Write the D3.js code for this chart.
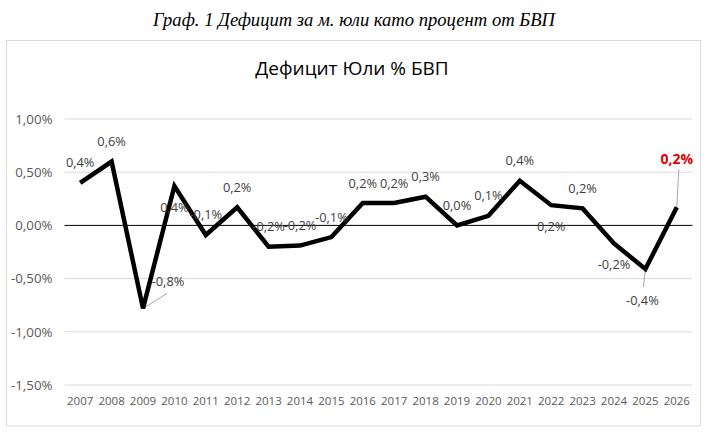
<!DOCTYPE html>
<html>
<head>
<meta charset="utf-8">
<script src="https://cdn.jsdelivr.net/npm/d3@7"></script>
<style>
  body { margin: 0; background: #fff; }
  svg { display: block; }
</style>
</head>
<body>
<script>
// data
const years = ["2007","2008","2009","2010","2011","2012","2013","2014","2015","2016",
               "2017","2018","2019","2020","2021","2022","2023","2024","2025","2026"];
const deficit = [0.40, 0.60, -0.78, 0.37, -0.09, 0.17, -0.20, -0.19, -0.11, 0.21,
                 0.21, 0.27, 0.00, 0.09, 0.42, 0.19, 0.16, -0.17, -0.41, 0.17];
const yTicks = [-1.5, -1.0, -0.5, 0, 0.5, 1.0];

// where each data label sits relative to its point (layout only)
const labelDx = [0,0,25,0,0,0,0,0,0,0, 0,0,0,0,0,0,0,0,-3,0];
const labelDy = [-20,-20,-27,21,-20,-20,-20,-20,-20,-20, -20,-20,-20,-20,-20,21,-20,21,31,-48];

const W = 716, H = 445;
const plot = {left: 64.5, right: 692.5, top: 119, bottom: 385};

const svg = d3.select("body").append("svg")
  .attr("width", W).attr("height", H);

// caption above the chart
svg.append("text")
  .attr("x", 354).attr("y", 26)
  .attr("text-anchor", "middle")
  .attr("textLength", 402)
  .attr("lengthAdjust", "spacingAndGlyphs")
  .style("font-family", "'Liberation Serif', serif")
  .style("font-style", "italic")
  .style("font-size", "18px")
  .attr("fill", "#000")
  .text("Граф. 1 Дефицит за м. юли като процент от БВП");

// chart frame
svg.append("rect")
  .attr("x", 6.5).attr("y", 40.5)
  .attr("width", 694).attr("height", 385.5)
  .attr("fill", "#fff").attr("stroke", "#d9d9d9");

svg.append("text")
  .attr("x", 352).attr("y", 75)
  .attr("text-anchor", "middle")
  .style("font-family", "'Open Sans', sans-serif")
  .style("font-size", "19px")
  .attr("fill", "#000")
  .text("Дефицит Юли % БВП");

const x = d3.scaleBand().domain(years).range([plot.left, plot.right]);
const y = d3.scaleLinear().domain([-1.5, 1.0]).range([plot.bottom, plot.top]);

const fmtAxis = d => d3.format(".2f")(d).replace(".", ",").replace("−", "-") + "%";
const fmtLabel = d => d3.format(".1f")(d).replace(".", ",").replace("−", "-") + "%";

// gridlines
svg.append("g")
  .selectAll("line")
  .data(yTicks.filter(d => d !== 0))
  .enter().append("line")
  .attr("x1", plot.left).attr("x2", plot.right)
  .attr("y1", d => y(d)).attr("y2", d => y(d))
  .attr("stroke", "#d9d9d9").attr("stroke-width", 1);

// y axis labels
const yAxis = d3.axisLeft(y).tickValues(yTicks).tickSize(0).tickPadding(12).tickFormat(fmtAxis);
svg.append("g")
  .attr("transform", "translate(" + plot.left + ",0)")
  .call(yAxis)
  .call(g => g.select(".domain").remove())
  .selectAll("text")
  .style("font-family", "'Open Sans', sans-serif")
  .style("font-size", "13.3px")
  .attr("fill", "#595959");

// zero line
svg.append("line")
  .attr("x1", plot.left).attr("x2", plot.right)
  .attr("y1", y(0)).attr("y2", y(0))
  .attr("stroke", "#000").attr("stroke-width", 1);

// x axis labels
const xAxis = d3.axisBottom(x).tickSize(0).tickPadding(12);
svg.append("g")
  .attr("transform", "translate(0," + plot.bottom + ")")
  .call(xAxis)
  .call(g => g.select(".domain").remove())
  .selectAll("text")
  .style("font-family", "'Open Sans', sans-serif")
  .style("font-size", "11.5px")
  .attr("fill", "#595959");

const cx = i => x(years[i]) + x.bandwidth() / 2;

// leader lines for moved labels
const leaders = [2, 18, 19];
svg.append("g")
  .selectAll("line")
  .data(leaders)
  .enter().append("line")
  .attr("x1", i => cx(i)).attr("y1", i => y(deficit[i]))
  .attr("x2", i => i === 2 ? cx(i) + 24 : i === 18 ? cx(i) - 2 : cx(i) + 2)
  .attr("y2", i => i === 2 ? y(deficit[i]) - 15 : i === 18 ? y(deficit[i]) + 18 : y(deficit[i]) - 38)
  .attr("stroke", "#a6a6a6").attr("stroke-width", 1);

// the series
const line = d3.line()
  .x((d, i) => cx(i))
  .y(d => y(d));

svg.append("path")
  .datum(deficit)
  .attr("d", line)
  .attr("fill", "none")
  .attr("stroke", "#000")
  .attr("stroke-width", 4.5)
  .attr("stroke-linejoin", "miter");

// data labels
svg.append("g")
  .selectAll("text")
  .data(deficit)
  .enter().append("text")
  .attr("x", (d, i) => cx(i) + labelDx[i])
  .attr("y", (d, i) => y(d) + labelDy[i])
  .attr("dy", "0.35em")
  .attr("text-anchor", "middle")
  .style("font-family", "'Open Sans', sans-serif")
  .style("font-size", (d, i) => i === years.length - 1 ? "14px" : "12.8px")
  .style("font-weight", (d, i) => i === years.length - 1 ? "bold" : "normal")
  .attr("fill", (d, i) => i === years.length - 1 ? "#e00000" : "#404040")
  .text(d => fmtLabel(d));
</script>
</body>
</html>
